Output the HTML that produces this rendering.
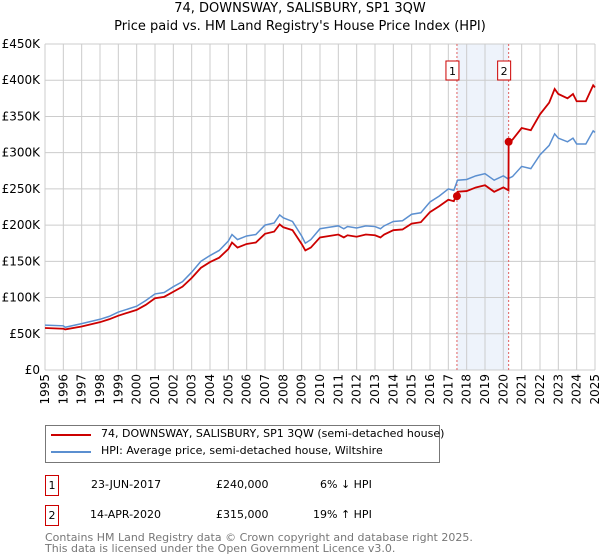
<!DOCTYPE html>
<html><head><meta charset="utf-8">
<style>
body{margin:0;background:#fff;font-family:"DejaVu Sans","Liberation Sans",sans-serif;}
#wrap{position:relative;width:600px;height:560px;overflow:hidden;}
.t{position:absolute;white-space:nowrap;color:#000;}
</style></head>
<body>
<div id="wrap">
<div class="t" style="left:0;width:600px;text-align:center;top:0;font-size:13px;line-height:18px">74, DOWNSWAY, SALISBURY, SP1 3QW<br>Price paid vs. HM Land Registry's House Price Index (HPI)</div>
<svg id="c" width="600" height="420" style="position:absolute;left:0;top:0"></svg>
<div style="position:absolute;left:45px;top:425px;width:393px;height:36px;border:1px solid #777;font-size:11px">
 <div style="position:absolute;left:5px;top:8px;width:40px;height:2px;background:#cc0000"></div>
 <div class="t" style="left:55px;top:1px">74, DOWNSWAY, SALISBURY, SP1 3QW (semi-detached house)</div>
 <div style="position:absolute;left:5px;top:25px;width:40px;height:2px;background:#5b8fd0"></div>
 <div class="t" style="left:55px;top:18px">HPI: Average price, semi-detached house, Wiltshire</div>
</div>
<div style="position:absolute;left:0;top:475px;width:600px;font-size:11px">
 <div class="t" style="left:45px;top:0;width:12px;height:19px;border:1px solid #cc0000;text-align:center;line-height:19px">1</div>
 <div class="t" style="left:91px;top:3px">23-JUN-2017</div>
 <div class="t" style="left:216px;top:3px">£240,000</div>
 <div class="t" style="left:320px;top:3px">6% ↓ HPI</div>
</div>
<div style="position:absolute;left:0;top:505px;width:600px;font-size:11px">
 <div class="t" style="left:45px;top:0;width:12px;height:19px;border:1px solid #cc0000;text-align:center;line-height:19px">2</div>
 <div class="t" style="left:90px;top:3px">14-APR-2020</div>
 <div class="t" style="left:216px;top:3px">£315,000</div>
 <div class="t" style="left:313px;top:3px">19% ↑ HPI</div>
</div>
<div class="t" style="left:45px;top:532px;font-size:11px;line-height:11px;color:#777">Contains HM Land Registry data © Crown copyright and database right 2025.<br>This data is licensed under the Open Government Licence v3.0.</div>
</div>
<script>
const hpiYears=[1995,1996,1996.1,1997,1998,1998.5,1999,2000,2000.5,2001,2001.5,2002,2002.5,2003,2003.5,2004,2004.5,2005,2005.2,2005.5,2006,2006.5,2007,2007.5,2007.8,2008,2008.5,2009,2009.2,2009.5,2010,2010.5,2011,2011.3,2011.5,2012,2012.5,2013,2013.3,2013.5,2014,2014.5,2015,2015.5,2016,2016.5,2017,2017.3,2017.5,2018,2018.5,2019,2019.5,2020,2020.25,2020.5,2021,2021.5,2022,2022.5,2022.8,2023,2023.5,2023.8,2024,2024.5,2024.9,2025];
const hpiValues=[62,61,59,64,70,74,80,88,96,105,107,115,122,135,150,158,165,178,187,180,185,187,200,203,214,210,205,185,175,180,195,197,199,195,198,196,199,198,195,199,205,206,215,217,232,240,250,248,262,263,268,271,262,268,264,267,281,278,297,310,326,320,315,320,312,312,330,328];
const priceYears=[1995,1996,1996.1,1997,1998,1998.5,1999,2000,2000.5,2001,2001.5,2002,2002.5,2003,2003.5,2004,2004.5,2005,2005.2,2005.5,2006,2006.5,2007,2007.5,2007.8,2008,2008.5,2009,2009.2,2009.5,2010,2010.5,2011,2011.3,2011.5,2012,2012.5,2013,2013.3,2013.5,2014,2014.5,2015,2015.5,2016,2016.5,2017,2017.3,2017.5,2018,2018.5,2019,2019.5,2020,2020.28,2020.29,2020.5,2021,2021.5,2022,2022.5,2022.8,2023,2023.5,2023.8,2024,2024.5,2024.9,2025];
const priceValues=[58,57,56,60,66,70,75,83,90,99,101,108,115,127,141,149,155,167,176,169,174,176,188,191,201,197,193,174,165,169,183,185,187,183,186,184,187,186,183,187,193,194,202,204,218,226,235,233,246,247,252,255,246,252,248,315,318,334,331,353,369,388,381,375,381,371,371,393,390];
const saleYears=[2017.47,2020.29];
const saleValues=[240,315];
const saleLabels=["1","2"];
const yTicks=[0,50,100,150,200,250,300,350,400,450];
const yTickLabels=["£0","£50K","£100K","£150K","£200K","£250K","£300K","£350K","£400K","£450K"];
const xTicks=[1995,1996,1997,1998,1999,2000,2001,2002,2003,2004,2005,2006,2007,2008,2009,2010,2011,2012,2013,2014,2015,2016,2017,2018,2019,2020,2021,2022,2023,2024,2025];

const X0=45,X1=595,Y0=370,Y1=44;
const xs=y=>X0+(y-1995)/30*(X1-X0);
const ys=v=>Y0-v/450*(Y0-Y1);
const svg=document.getElementById('c');
const NS='http://www.w3.org/2000/svg';
function mk(t,a){const e=document.createElementNS(NS,t);for(const k in a)e.setAttribute(k,a[k]);svg.appendChild(e);return e;}

let band=mk('rect',{x:xs(saleYears[0]),y:Y1,width:xs(saleYears[1])-xs(saleYears[0]),height:Y0-Y1,fill:'#eef3fb'});



xTicks.forEach(t=>{
  let l=mk('line',{x1:xs(t),x2:xs(t),y1:Y1,y2:Y0,stroke:'#ccc','stroke-width':1});
  
  
  let tx=mk('text',{x:0,y:0,'font-size':12,'text-anchor':'end',transform:`translate(${xs(t)+4},${Y0+4}) rotate(-90)`,fill:'#000'});
  tx.textContent=t;
  
  
});
yTicks.forEach((t,i)=>{
  let l=mk('line',{x1:X0,x2:X1,y1:ys(t),y2:ys(t),stroke:'#ccc','stroke-width':1});
  
  
  let tx=mk('text',{x:X0-5,y:ys(t)+4,'font-size':12,'text-anchor':'end',fill:'#000'});
  tx.textContent=yTickLabels[i];
  
  
});

saleYears.forEach((y,i)=>{
  let l=mk('line',{x1:xs(y),x2:xs(y),y1:Y1,y2:Y0,stroke:'#e06060','stroke-width':1,'stroke-dasharray':'2,2'});
  
  
  let r=mk('rect',{x:xs(y)-11,y:61,width:13,height:19,fill:'#fff',stroke:'#cc0000'});
  
  
  let tx=mk('text',{x:xs(y)-4.5,y:75,'font-size':11,'text-anchor':'middle'});
  tx.textContent=saleLabels[i];
  
  
});

let hp=mk('polyline',{points:hpiYears.map((y,i)=>xs(y)+','+ys(hpiValues[i])).join(' '),fill:'none',stroke:'#5b8fd0','stroke-width':1.5});


let pp=mk('polyline',{points:priceYears.map((y,i)=>xs(y)+','+ys(priceValues[i])).join(' '),fill:'none',stroke:'#cc0000','stroke-width':1.8});


saleYears.forEach((y,i)=>{
  let c=mk('circle',{cx:xs(y),cy:ys(saleValues[i]),r:4,fill:'#cc0000'});
  
  
});
</script>
</body></html>
